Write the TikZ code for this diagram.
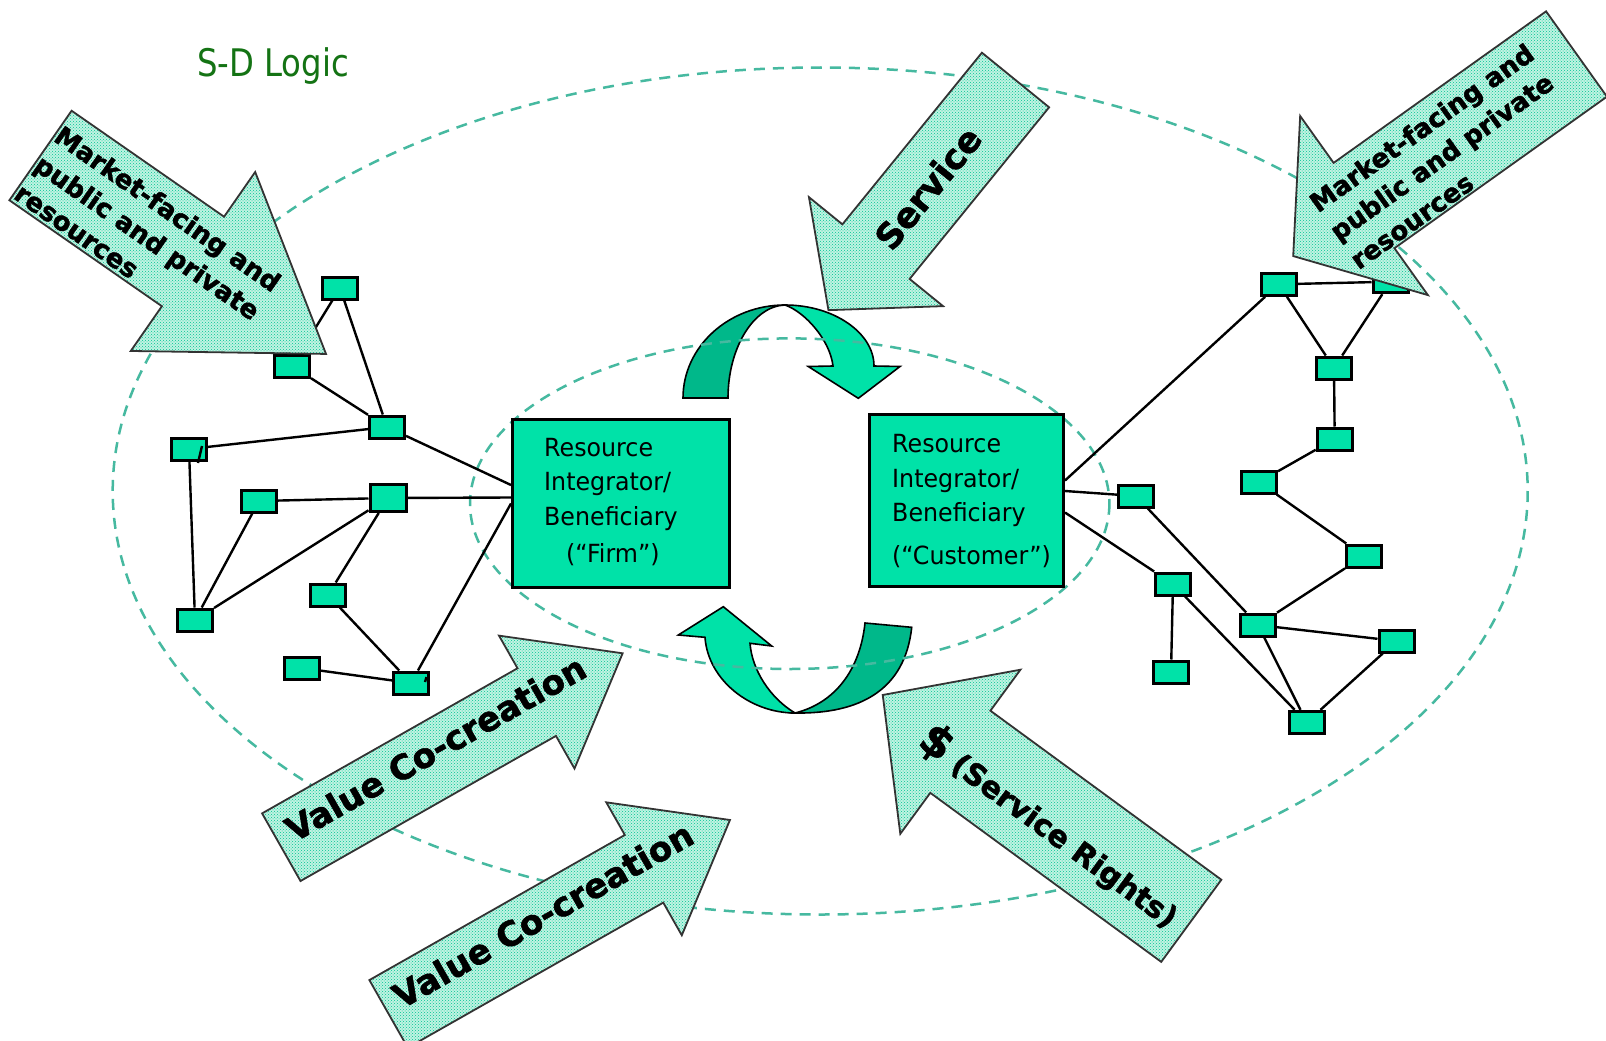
\documentclass[tikz,border=0pt]{standalone}
\usepackage{fontspec}
\setmainfont{DejaVu Sans}
\newfontfamily\boxfont[FakeStretch=0.95]{DejaVu Sans}
\newfontfamily\titlefont[FakeStretch=0.85]{DejaVu Sans}
\newfontfamily\heavyfont[BoldFeatures={FakeBold=1.6}]{DejaVu Sans}
\usetikzlibrary{patterns,calc}

\definecolor{tealA}{RGB}{0,226,168}
\definecolor{tealB}{RGB}{0,184,138}
\definecolor{dashc}{RGB}{70,185,160}
\definecolor{arrowbg}{RGB}{192,243,226}
\definecolor{arrowdot}{RGB}{0,196,146}
\definecolor{sdgreen}{RGB}{20,115,20}

\tikzset{
  nbox/.style={draw=black, line width=3pt, fill=tealA, minimum width=35pt, minimum height=22pt, inner sep=0pt},
  bigbox/.style={draw=black, line width=3pt, fill=tealA, inner sep=0pt},
  conn/.style={draw=black, line width=2.4pt},
  dashline/.style={draw=dashc, line width=2.5pt, dash pattern=on 11pt off 8pt},
  bigarrow/.style={draw=black!80, line width=1.8pt, preaction={fill=arrowbg}, pattern=crosshatch dots, pattern color=arrowdot},
  bandlight/.style={draw=black, line width=1.6pt, fill=tealA},
  banddark/.style={draw=black, line width=1.6pt, fill=tealB},
  boxtext/.style={font=\boxfont\fontsize{25}{34.6}\selectfont, align=left, inner sep=0pt},
  arrowtext/.style={font=\heavyfont\bfseries\fontsize{26}{35}\selectfont, inner sep=0pt, text=black}
}

% block arrow along the local x axis: length, shaft width, head width, head length
\newcommand{\arrowshape}[4]{%
  \path[bigarrow] (0,{-(#2)/2}) -- ({#1-#4},{-(#2)/2}) -- ({#1-#4},{-(#3)/2}) -- (#1,0)
    -- ({#1-#4},{(#3)/2}) -- ({#1-#4},{(#2)/2}) -- (0,{(#2)/2}) -- cycle;}

\begin{document}
\begin{tikzpicture}[x=1pt,y=-1pt]
\useasboundingbox (0,0) rectangle (1606,1041);
\fill[white] (0,0) rectangle (1606,1041);

% title
\node[font=\titlefont\fontsize{38}{40}\selectfont, text=sdgreen, anchor=base west, inner sep=0pt] (title) at (197,77) {S-D Logic};

% outer service ecosystem
\draw[dashline] (820.2,491) ellipse [x radius=707.5, y radius=423.5];

% exchange loop between the two integrators
\path[banddark] (683,398) .. controls (683,346.7) and (728.7,305) .. (785,305)
  .. controls (753.5,306) and (728,348) .. (728,398) -- cycle;
\path[bandlight] (785,305) .. controls (834,305) and (874,333) .. (874,366)
  -- (900,366.5) -- (858.3,398.3) -- (808.3,366.5) -- (833,366)
  .. controls (830,340) and (805,312) .. (785,305) -- cycle;
\path[banddark] (865,623) -- (911.7,627.3) .. controls (905,690) and (860,714) .. (795,713)
  .. controls (835,703) and (860,670) .. (865,623) -- cycle;
\path[bandlight] (795,713) .. controls (750,713) and (708,680) .. (705,637.3)
  -- (678.3,635) -- (723.3,606.7) -- (771.7,646) -- (750,643.3)
  .. controls (752,670) and (770,698) .. (795,713) -- cycle;

% inner dyad
\draw[dashline] (789.7,503.7) ellipse [x radius=319.7, y radius=165.3];

% integrators
\node[bigbox, minimum width=217pt, minimum height=168pt] (firm) at (621,503.5) {};
\node[bigbox, minimum width=194pt, minimum height=172pt] (cust) at (966.5,500.5) {};
\node[boxtext, anchor=west] (firmtext) at (544,502) {Resource\\Integrator/\\Beneficiary\\[3pt]\hspace*{22pt}(“Firm”)};
\node[boxtext, anchor=west] (custtext) at (892,501) {Resource\\Integrator/\\Beneficiary\\[8pt](“Customer”)};

% firm-side network
\node[nbox] (L1) at (340,288) {};
\node[nbox] (L2) at (292,366) {};
\node[nbox] (L3) at (387,427) {};
\node[nbox] (L4) at (189,449) {};
\node[nbox] (L5) at (259,501) {};
\node[nbox, minimum width=36pt, minimum height=27pt] (L6) at (388,498) {};
\node[nbox] (L7) at (195,620) {};
\node[nbox] (L8) at (328,595) {};
\node[nbox] (L9) at (301.5,668) {};
\node[nbox] (L10) at (411,683) {};

\draw[conn] (L1) -- (L2);
\draw[conn] (L1) -- (L3);
\draw[conn] (L2) -- (L3);
\draw[conn] (L3) -- (L4);
\draw[conn] (L3) -- ([yshift=18.5pt]firm.west);
\draw[conn] (L6) -- ([yshift=6pt]firm.west);
\draw[conn] (L5) -- (L6);
\draw[conn] (L5) -- (L7);
\draw[conn] (L6) -- (L7);
\draw[conn] (L4) -- (L7);
\draw[conn] (L6) -- (L8);
\draw[conn] (L8) -- (L10);
\draw[conn] (L9) -- (L10);
\draw[conn] (L10) -- (firm.west);
\draw[conn] ($(L4.center)+(13,-3)$) -- ($(L4.center)+(9,14)$);
\draw[conn] ($(L10.center)+(15.5,-6)$) -- ($(L10.center)+(14,-1)$);

% customer-side network
\node[nbox] (R1) at (1278.7,284.3) {};
\node[nbox] (R2) at (1390.5,281.7) {};
\node[nbox] (R3) at (1334,368) {};
\node[nbox] (R4) at (1334.7,439) {};
\node[nbox] (R5) at (1259,482) {};
\node[nbox] (R6) at (1136,496) {};
\node[nbox] (R7) at (1364,556) {};
\node[nbox] (R8) at (1173,584) {};
\node[nbox] (R9) at (1258,625) {};
\node[nbox] (R10) at (1396.5,641) {};
\node[nbox] (R11) at (1171,672) {};
\node[nbox] (R12) at (1306.7,722.3) {};

\draw[conn] ([yshift=20pt]cust.east) -- (R1);
\draw[conn] ([yshift=9.5pt]cust.east) -- (R6);
\draw[conn] ([yshift=-12pt]cust.east) -- (R8);
\draw[conn] (R1) -- (R2);
\draw[conn] (R1) -- (R3);
\draw[conn] (R2) -- (R3);
\draw[conn] (R3) -- (R4);
\draw[conn] (R4) -- (R5);
\draw[conn] (R5) -- (R7);
\draw[conn] (R6) -- (R9);
\draw[conn] (R7) -- (R9);
\draw[conn] (R9) -- (R10);
\draw[conn] (R8) -- (R11);
\draw[conn] (R8) -- (R12);
\draw[conn] (R9) -- (R12);
\draw[conn] (R10) -- (R12);

% resource flows
\begin{scope}[shift={(40.5,155.5)}, rotate=-34.8]
  \arrowshape{347.7}{109}{218}{162}
  \node[arrowtext, rotate=-34.8, align=left] (mleft) at (135,6) {Market-facing and\\public and private\\resources};
\end{scope}
\begin{scope}[shift={(1576.5,54)}, rotate=-144.5]
  \arrowshape{348}{104.8}{220}{87}
  \node[arrowtext, rotate=35.5, align=left] (mright) at (169,-5) {Market-facing and\\public and private\\resources};
\end{scope}
\begin{scope}[shift={(1015.5,80)}, rotate=-129.1]
  \arrowshape{296.6}{86.6}{172.8}{75.4}
  \node[arrowtext, rotate=50.9, font=\heavyfont\bfseries\fontsize{35}{40}\selectfont] (service) at (139,0) {Service};
\end{scope}
\begin{scope}[shift={(1191.3,920.8)}, rotate=143.8]
  \arrowshape{382.4}{101.8}{203.4}{96.2}
  \node[arrowtext, rotate=-36.2, font=\heavyfont\bfseries\fontsize{30}{34}\selectfont] (rights) at (170,-7) {{\fontsize{44}{44}\selectfont\$} (Service Rights)};
\end{scope}
\begin{scope}[shift={(281.3,847.2)}, rotate=29.6]
  \arrowshape{392.6}{77.8}{152.9}{98.8}
  \node[arrowtext, rotate=29.6, font=\heavyfont\bfseries\fontsize{34}{38}\selectfont] (vcc1) at (183,-10) {Value Co-creation};
\end{scope}
\begin{scope}[shift={(388.6,1013.9)}, rotate=29.6]
  \arrowshape{392.6}{77.8}{152.9}{98.8}
  \node[arrowtext, rotate=29.6, font=\heavyfont\bfseries\fontsize{34}{38}\selectfont] (vcc2) at (183,-10) {Value Co-creation};
\end{scope}
\end{tikzpicture}
\end{document}
